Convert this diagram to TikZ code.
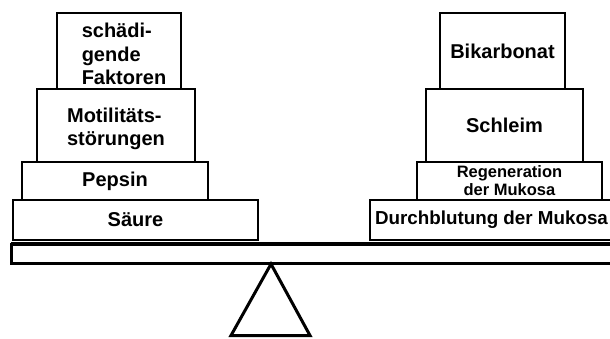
\documentclass[tikz,border=0pt]{standalone}
\usepackage{fontspec}
\setmainfont{Liberation Sans}
\tikzset{
  box/.style={draw, line width=2pt, inner sep=0pt, font=\bfseries\fontsize{20}{23.5}\selectfont},
  smallbox/.style={box, font=\bfseries\fontsize{16.5}{18}\selectfont}
}
\begin{document}
\begin{tikzpicture}[x=1pt,y=-1pt]
  \useasboundingbox (0,0) rectangle (610,338);
  % left side
  \node (saeure) [box, minimum width=245pt, minimum height=40pt] at (135.5,220) {Säure};
  \node (pepsin) [box, minimum width=186pt, minimum height=38pt] at (115,181) {Pepsin};
  \node (motil) [box, minimum width=158pt, minimum height=73pt] at (116,125.5) {};
  \node [box, draw=none, align=left] at (116,129) {Motilitäts-\\störungen};
  \node (schaed) [box, minimum width=124pt, minimum height=76pt] at (119,51) {};
  \node [box, draw=none, align=left] at (124,54) {schädi-\\gende\\Faktoren};

  % right side
  \node (durch) [box, minimum width=250pt, minimum height=40pt] at (495,220) {};
  \node [box, draw=none, anchor=west, font=\bfseries\fontsize{18.8}{21}\selectfont] at (374,220) {Durchblutung der Mukosa};
  \node (regen) [smallbox, minimum width=185pt, minimum height=38pt, align=center] at (509.5,181) {Regeneration\\der Mukosa};
  \node (schleim) [box, minimum width=157pt, minimum height=73pt] at (504.5,125.5) {Schleim};
  \node (bikarb) [box, minimum width=125pt, minimum height=76pt] at (502.5,51) {Bikarbonat};

  % beam and pivot
  \draw [line width=3pt] (11,244.5) rectangle (616,263.5);
  \draw [line width=1.5pt] (11,242.5) -- (616,242.5);
  \draw [line width=3pt, line join=miter] (271,264) -- (310,335.5) -- (231,335.5) -- cycle;
\end{tikzpicture}
\end{document}
